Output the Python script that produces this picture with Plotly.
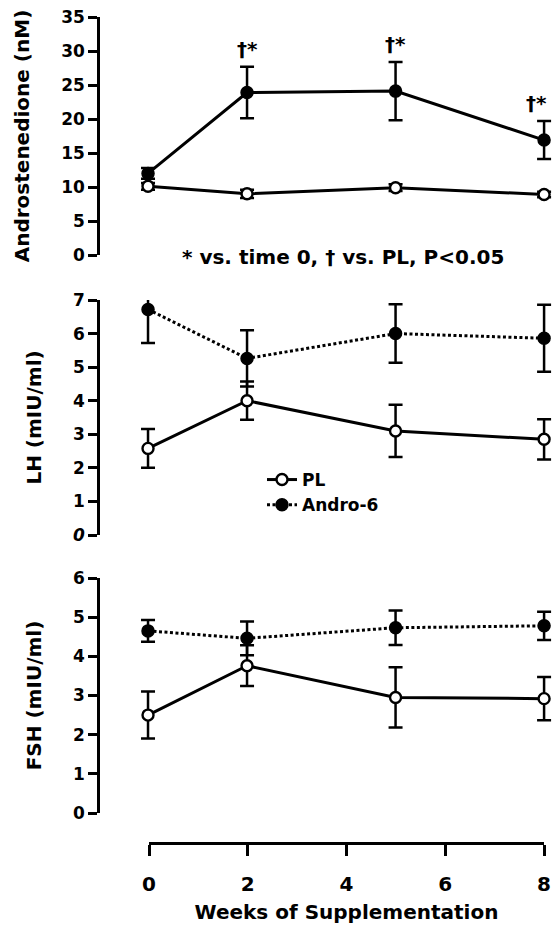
import plotly.graph_objects as go

# Sampling weeks
weeks = [0, 2, 5, 8]

# Androstenedione (nM), mean and SEM
andro_pl = [10.1, 9.0, 9.9, 8.9]
andro_pl_sem = [0.5, 0.6, 0.5, 0.4]
andro_a6 = [12.0, 23.9, 24.1, 16.9]
andro_a6_sem = [0.8, 3.8, 4.3, 2.8]

# LH (mIU/ml)
lh_pl = [2.58, 4.0, 3.1, 2.85]
lh_pl_sem = [0.58, 0.57, 0.78, 0.6]
lh_a6 = [6.72, 5.26, 6.0, 5.86]
lh_a6_sem = [1.0, 0.84, 0.87, 1.0]

# FSH (mIU/ml)
fsh_pl = [2.5, 3.76, 2.95, 2.92]
fsh_pl_sem = [0.6, 0.52, 0.77, 0.55]
fsh_a6 = [4.65, 4.46, 4.73, 4.78]
fsh_a6_sem = [0.28, 0.43, 0.44, 0.36]

# Significance marks on the Andro-6 androstenedione curve
sig_weeks = [2, 5, 8]
sig_label = "†*"

week_ticks = [0, 2, 4, 6, 8]

W, H = 552, 928
FONT = "DejaVu Sans"
INK = "black"


def px_x(p):
    return p / W


def px_y(p):
    return 1 - p / H


def err(arr):
    return dict(type="data", array=arr, visible=True, color=INK,
                thickness=2.5, width=7)


fig = go.Figure()

panels = [
    ("x", "y", andro_pl, andro_pl_sem, andro_a6, andro_a6_sem, "solid", False),
    ("x2", "y2", lh_pl, lh_pl_sem, lh_a6, lh_a6_sem, "3px,2.5px", True),
    ("x3", "y3", fsh_pl, fsh_pl_sem, fsh_a6, fsh_a6_sem, "3px,2.5px", False),
]

for xa, ya, pl, pl_sem, a6, a6_sem, a6_dash, in_legend in panels:
    fig.add_trace(go.Scatter(
        x=weeks, y=a6, error_y=err(a6_sem), mode="lines+markers",
        name="Andro-6", legendrank=2, showlegend=in_legend, cliponaxis=False,
        line=dict(color=INK, width=3, dash=a6_dash),
        marker=dict(symbol="circle", size=12, color=INK,
                    line=dict(color=INK, width=1.5)),
        xaxis=xa, yaxis=ya))
    fig.add_trace(go.Scatter(
        x=weeks, y=pl, error_y=err(pl_sem), mode="lines+markers",
        name="PL", legendrank=1, showlegend=in_legend, cliponaxis=False,
        line=dict(color=INK, width=3),
        marker=dict(symbol="circle", size=11, color="white",
                    line=dict(color=INK, width=2.4)),
        xaxis=xa, yaxis=ya))

# carrier for the shared week axis drawn under the bottom panel
fig.add_trace(go.Scatter(x=[None], y=[None], xaxis="x4", yaxis="y4",
                         showlegend=False, hoverinfo="skip"))

tick_font = dict(family=FONT, size=17, color=INK, weight="bold")
week_tick_font = dict(family=FONT, size=20, color=INK, weight="bold")
title_font = dict(family=FONT, size=20, color=INK, weight="bold")

panel_x = dict(domain=[px_x(100), 1.0], range=[-0.97, 8.16], visible=False,
               fixedrange=True)


def yax(rng, dom, title, ticktext=None):
    d = dict(range=rng, domain=dom, showline=True, linecolor=INK, linewidth=2.5,
             ticks="outside", ticklen=9, tickwidth=2.5, tickcolor=INK,
             showgrid=False, zeroline=False, tickfont=tick_font,
             automargin=False,
             title=dict(text=title, font=title_font, standoff=27))
    vals = list(range(int(rng[0]), int(rng[1]) + 1, 5 if rng[1] > 10 else 1))
    d["tickvals"] = vals
    d["ticktext"] = ticktext if ticktext else [str(v) for v in vals]
    return d


lh_vals = list(range(0, 8))
lh_text = ["<i>0</i>"] + [str(v) for v in lh_vals[1:]]

fig.update_layout(
    width=W, height=H,
    margin=dict(l=0, r=0, t=0, b=0),
    paper_bgcolor="white", plot_bgcolor="white",
    xaxis=dict(panel_x, anchor="y"),
    xaxis2=dict(panel_x, anchor="y2"),
    xaxis3=dict(panel_x, anchor="y3"),
    yaxis=dict(yax([0, 35], [px_y(255), px_y(17)], "Androstenedione (nM)"),
               anchor="x"),
    yaxis2=dict(yax([0, 7], [px_y(535), px_y(300)], "LH (mIU/ml)", lh_text),
                anchor="x2"),
    yaxis3=dict(yax([0, 6], [px_y(813), px_y(578)], "FSH (mIU/ml)"),
                anchor="x3"),
    xaxis4=dict(domain=[px_x(149), px_x(544)], range=[0, 8], anchor="y4",
                tickvals=week_ticks, ticktext=[str(v) for v in week_ticks],
                showline=True, linecolor=INK, linewidth=2.5,
                ticks="outside", ticklen=11, tickwidth=2.5, tickcolor=INK,
                ticklabelstandoff=11,
                showgrid=False, zeroline=False, tickfont=week_tick_font,
                automargin=False,
                title=dict(text="Weeks of Supplementation", font=title_font,
                           standoff=11)),
    yaxis4=dict(domain=[px_y(842), px_y(839)], visible=False, anchor="x4"),
    showlegend=True,
    legend=dict(x=px_x(262), y=px_y(462), xanchor="left", yanchor="top",
                bgcolor="rgba(0,0,0,0)", borderwidth=0,
                font=dict(family=FONT, size=17, color=INK, weight="bold"),
                itemwidth=30, tracegroupgap=0),
)

# significance marks above the Andro-6 error bars
last_week = max(sig_weeks)
for wk in sig_weeks:
    i = weeks.index(wk)
    fig.add_annotation(x=wk, y=andro_a6[i] + andro_a6_sem[i], xref="x", yref="y",
                       text=sig_label, showarrow=False, yshift=18,
                       xshift=-8 if wk == last_week else 0,
                       font=dict(family=FONT, size=20, color=INK, weight="bold"))

fig.add_annotation(x=px_x(343), y=px_y(243), xref="paper", yref="paper",
                   text="* vs. time 0, † vs. PL, P<0.05", showarrow=False,
                   font=dict(family=FONT, size=20, color=INK, weight="bold"))

fig.write_html("out.html")
